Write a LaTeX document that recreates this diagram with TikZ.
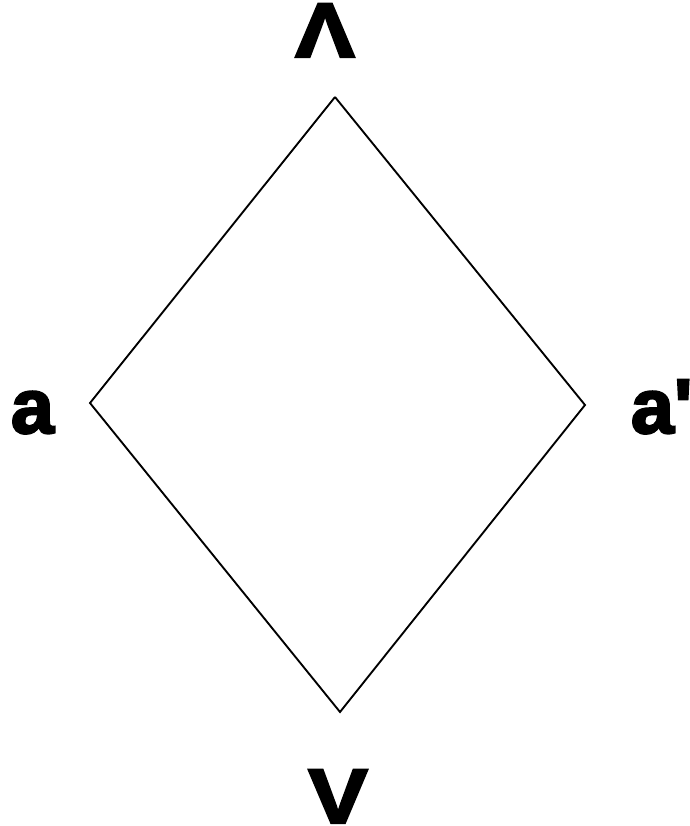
\documentclass[tikz,border=0pt]{standalone}
\usepackage{fontspec}
\newfontfamily\heavyfont{Liberation Sans}[BoldFont={Liberation Sans Bold}, BoldFeatures={FakeBold=3}]
\begin{document}
\begin{tikzpicture}[x=0.03cm, y=-0.03cm, thick,
    edge/.style={draw=black, line width=1.6pt},
    lbl/.style={font=\heavyfont\fontsize{66}{70}\selectfont\bfseries, inner sep=0pt, outer sep=0pt}]
    \useasboundingbox (0,0) rectangle (690,826);
    % Ecken der Raute
    \coordinate (top) at (335,97);
    \coordinate (left) at (90,403);
    \coordinate (right) at (585,405);
    \coordinate (bot) at (340,712);

    % Kanten
    \draw[edge] (top) -- (left) -- (bot) -- (right) -- (top);

    % Beschriftungen
    \node[lbl, anchor=base, xscale=1.15] (meet) at (325,57) {Λ};
    \node[lbl, anchor=base west] (la) at (11,433) {a};
    \node[lbl, anchor=base west] (ra) at (631,433) {a\char"27};
    \node[lbl, anchor=base, xscale=1.15] (join) at (338,823) {V};
\end{tikzpicture}
\end{document}
